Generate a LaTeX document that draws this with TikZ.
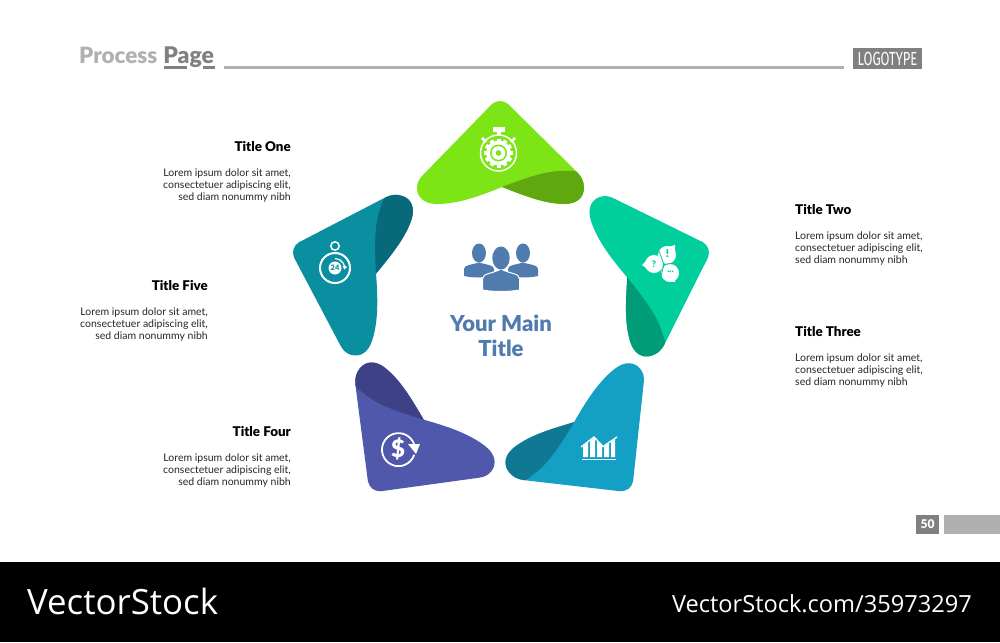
\documentclass[tikz,border=0pt]{standalone}
\usepackage{fontspec}
\setmainfont{Lato}[BoldFont={Lato Black}]
\newfontfamily\logofont[FakeStretch=0.68]{Fira Sans}
\newfontfamily\stockfont{Open Sans}
\usepackage{xcolor}
\definecolor{petalOne}{HTML}{7DE516}
\definecolor{petalOneDark}{HTML}{5FA80F}
\definecolor{petalTwo}{HTML}{00CE9C}
\definecolor{petalTwoDark}{HTML}{009B77}
\definecolor{petalThree}{HTML}{14A0C4}
\definecolor{petalThreeDark}{HTML}{107893}
\definecolor{petalFour}{HTML}{5058AB}
\definecolor{petalFourDark}{HTML}{3E4185}
\definecolor{petalFive}{HTML}{0A8FA1}
\definecolor{petalFiveDark}{HTML}{08697A}
\definecolor{mainBlue}{HTML}{4F7BAF}
\definecolor{headGrey}{HTML}{B0B0B0}
\definecolor{pageGrey}{HTML}{808080}
\usetikzlibrary{positioning,arrows.meta}
\newcommand{\petalshape}[1]{%
    \fill [#1] (492,104) .. controls (497,100) and (503,100) .. (508,104) -- (577,172)
        .. controls (582,177) and (584,182) .. (584,188) .. controls (584,198) and (576,204) .. (565,204)
        .. controls (545,204) and (525,196) .. (502,187) .. controls (480,196) and (458,204) .. (437,204)
        .. controls (424,204) and (417,197) .. (417,188) .. controls (417,183) and (419,179) .. (423,175) -- cycle;
    \fill [#1Dark] (502,187) .. controls (525,178) and (548,170) .. (565,171) .. controls (570,171) and (574,170) .. (577,172)
        .. controls (582,177) and (584,182) .. (584,188) .. controls (584,198) and (576,204) .. (565,204)
        .. controls (545,204) and (525,196) .. (502,187) -- cycle;
}

\begin{document}
\begin{tikzpicture}[x=1pt, y=-1pt,
                title/.style={font=\fontsize{13.4}{15}\selectfont\bfseries, inner sep=0pt, text=black},
                lorem/.style={font=\fontsize{10.5}{11.7}\selectfont, inner sep=0pt, text=black!85},
                left_text/.style={lorem, align=right, below=17.2pt of #1.south east, anchor=north east},
                right_text/.style={lorem, align=left, below=17.2pt of #1.south west, anchor=north west},
                icon/.style={draw=white, line width=1.5pt},
                solid_icon/.style={fill=white, draw=none}
            ]
            \useasboundingbox (0,0) rectangle (1000,642);
            \fill [white] (0,0) rectangle (1000,642);
            \fill [black] (0,562) rectangle (1000,642);

            % header
            \node (process) at (79,63.5) [anchor=base west, inner sep=0pt, text=headGrey, font=\fontsize{22.4}{24}\selectfont\bfseries] {Process};
            \node (page) [base right=5.5pt of process, inner sep=0pt, text=pageGrey, font=\fontsize{23}{24}\selectfont\bfseries] {Page};
            \fill [pageGrey] (164,66) rectangle (187,69);
            \fill [pageGrey] (203,66) rectangle (215,69);
            \fill [headGrey] (224,66) rectangle (844,69);
            \node (logo) at (887.5,58.5) [fill=pageGrey, text=white, minimum width=69pt, minimum height=21pt, inner sep=0pt, font=\fontsize{19}{20}\logofont] {LOGOTYPE};

            % petals
            \foreach \ang/\sx/\sy/\col in {0/0/0/petalOne, -72/2/-2/petalTwo, -142/-5/-0.3/petalThree, 142/6/-0.3/petalFour, 72/0/-2/petalFive} {
                \begin{scope}[shift={(\sx,\sy)}, rotate around={\ang:(500,318)}]
                    \petalshape{\col}
                \end{scope}
            }

            % icon one
            \draw [icon] (498.5,153) circle (18);
            \fill [solid_icon] (492.5,127) rectangle (504.5,131.5);
            \fill [solid_icon] (496.5,131) rectangle (500.5,136);
            \draw [icon, line width=2.5pt] (482,138) -- (486,142);
            \draw [icon, line width=2.5pt] (515,138) -- (511,142);
            \foreach \ang in {0,30,...,330} {
                \fill [solid_icon, rotate around={\ang:(498.5,153)}] (496.5,138.5) rectangle (500.5,143);
            }
            \fill [white] (498.5,153) circle (12.5);
            \fill [petalOne] (498.5,153) circle (8.5);
            \fill [white] (498.5,153) circle (6.8);
            \fill [petalOne] (498.5,153) circle (2.8);

            % icon two
            \fill [solid_icon] (667,255) circle (9);
            \fill [solid_icon] (668,247) -- (675,245) -- (675,254) -- cycle;
            \fill [solid_icon] (654,264) circle (9);
            \fill [solid_icon] (650,257) -- (642,265) -- (650,271) -- cycle;
            \fill [solid_icon] (670,273) circle (9);
            \fill [solid_icon] (677,269) -- (675,282) -- (667,281) -- cycle;
            \draw [petalTwo, line width=0.8pt] (664,264.5) -- (659,251);
            \draw [petalTwo, line width=0.8pt] (664,264.5) -- (679,262);
            \draw [petalTwo, line width=0.8pt] (664,264.5) -- (660,280);
            \node (bang) at (667.5,254) [inner sep=0pt, text=petalTwo, font=\fontsize{11}{11}\selectfont\bfseries] {!};
            \node (quest) at (654,264) [inner sep=0pt, text=petalTwo, font=\fontsize{9}{9}\selectfont\bfseries] {?};
            \node (dots) at (670.5,272) [inner sep=0pt, text=petalTwo, font=\fontsize{9}{9}\selectfont\bfseries] {...};

            % icon three
            \foreach \xa/\xb/\ya/\yb in {583/588/446/442, 590/595/441/437.5, 597/602/440/446, 604/609/447/443, 611/615/442/439} {
                \fill [solid_icon] (\xa,457) -- (\xa,\ya) -- (\xb,\yb) -- (\xb,457) -- cycle;
            }
            \draw [icon, line width=1.3pt] (581,447) -- (594,437) -- (603,446.5) -- (617,437);
            \fill [solid_icon] (582,458.5) rectangle (616,460);

            % icon four
            \draw [icon, line width=1.8pt] (414,444) arc (-20:-342:16.5);
            \fill [solid_icon] (408,444) -- (420,444) -- (416,454) -- cycle;
            \node (dollar) at (398,448.5) [inner sep=0pt, text=white, font=\fontsize{24}{24}\selectfont\bfseries] {\$};

            % icon five
            \draw [icon, line width=2pt] (335,268) circle (15);
            \draw [icon] (335,246) circle (4.2);
            \fill [solid_icon] (335,268) circle (6.5);
            \draw [icon, line width=1.2pt, -{Triangle[length=3.5pt,width=4.5pt]}] (335,258.5) arc (-90:10:9.5);
            \node (hours) at (335,268) [inner sep=0pt, text=petalFive, font=\fontsize{7.5}{8}\selectfont\bfseries] {24};

            % center
            \foreach \hx/\bl/\br in {479/464/494, 523/508/538} {
                \fill [mainBlue] (\hx,253) ellipse (7 and 9.5);
                \fill [mainBlue] (\bl,276) -- (\bl,269) .. controls (\bl,265) and (\hx-8,265) .. (\hx,262.5) .. controls (\hx+8,265) and (\br,265) .. (\br,269) -- (\br,276)
                    .. controls (\br-9,278) and (\bl+9,278) .. (\bl,276) -- cycle;
            }
            \draw [white, line width=1pt, fill=mainBlue] (482.5,290) -- (482.5,279) .. controls (482.5,273) and (492,274) .. (501,269) .. controls (510,274) and (519.5,273) .. (519.5,279) -- (519.5,290)
                .. controls (508,292) and (494,292) .. (482.5,290) -- cycle;
            \fill [mainBlue] (501,258) ellipse (8.7 and 11.5);
            \node (mainTitle) at (501,336) [align=center, inner sep=0pt, text=mainBlue, font=\fontsize{22}{25.5}\selectfont\bfseries] {Your Main\\Title};

            % texts
            \node (titleOne) at (291,146.5) [title, anchor=east] {Title One};
            \node (textOne) [left_text=titleOne] {Lorem ipsum dolor sit amet,\\consectetuer adipiscing elit,\\sed diam nonummy nibh};
            \node (titleTwo) at (795,209.5) [title, anchor=west] {Title Two};
            \node (textTwo) [right_text=titleTwo] {Lorem ipsum dolor sit amet,\\consectetuer adipiscing elit,\\sed diam nonummy nibh};
            \node (titleThree) at (795,331.5) [title, anchor=west] {Title Three};
            \node (textThree) [right_text=titleThree] {Lorem ipsum dolor sit amet,\\consectetuer adipiscing elit,\\sed diam nonummy nibh};
            \node (titleFour) at (291,431.5) [title, anchor=east] {Title Four};
            \node (textFour) [left_text=titleFour] {Lorem ipsum dolor sit amet,\\consectetuer adipiscing elit,\\sed diam nonummy nibh};
            \node (titleFive) at (208,285.5) [title, anchor=east] {Title Five};
            \node (textFive) [left_text=titleFive] {Lorem ipsum dolor sit amet,\\consectetuer adipiscing elit,\\sed diam nonummy nibh};

            % footer
            \node (pageNo) at (927.5,524.5) [fill=pageGrey, text=white, minimum width=23pt, minimum height=19pt, inner sep=0pt, font=\fontsize{12}{13}\selectfont\bfseries] {50};
            \fill [headGrey] (944,515) rectangle (1000,534);
            \node (stockLeft) at (27,601) [anchor=west, inner sep=0pt, text=white, font=\fontsize{34.8}{36}\stockfont] {VectorStock};
            \node (stockRight) at (972,604) [anchor=east, inner sep=0pt, text=white, font=\fontsize{23.6}{26}\stockfont] {VectorStock.com/35973297};
\end{tikzpicture}
\end{document}
